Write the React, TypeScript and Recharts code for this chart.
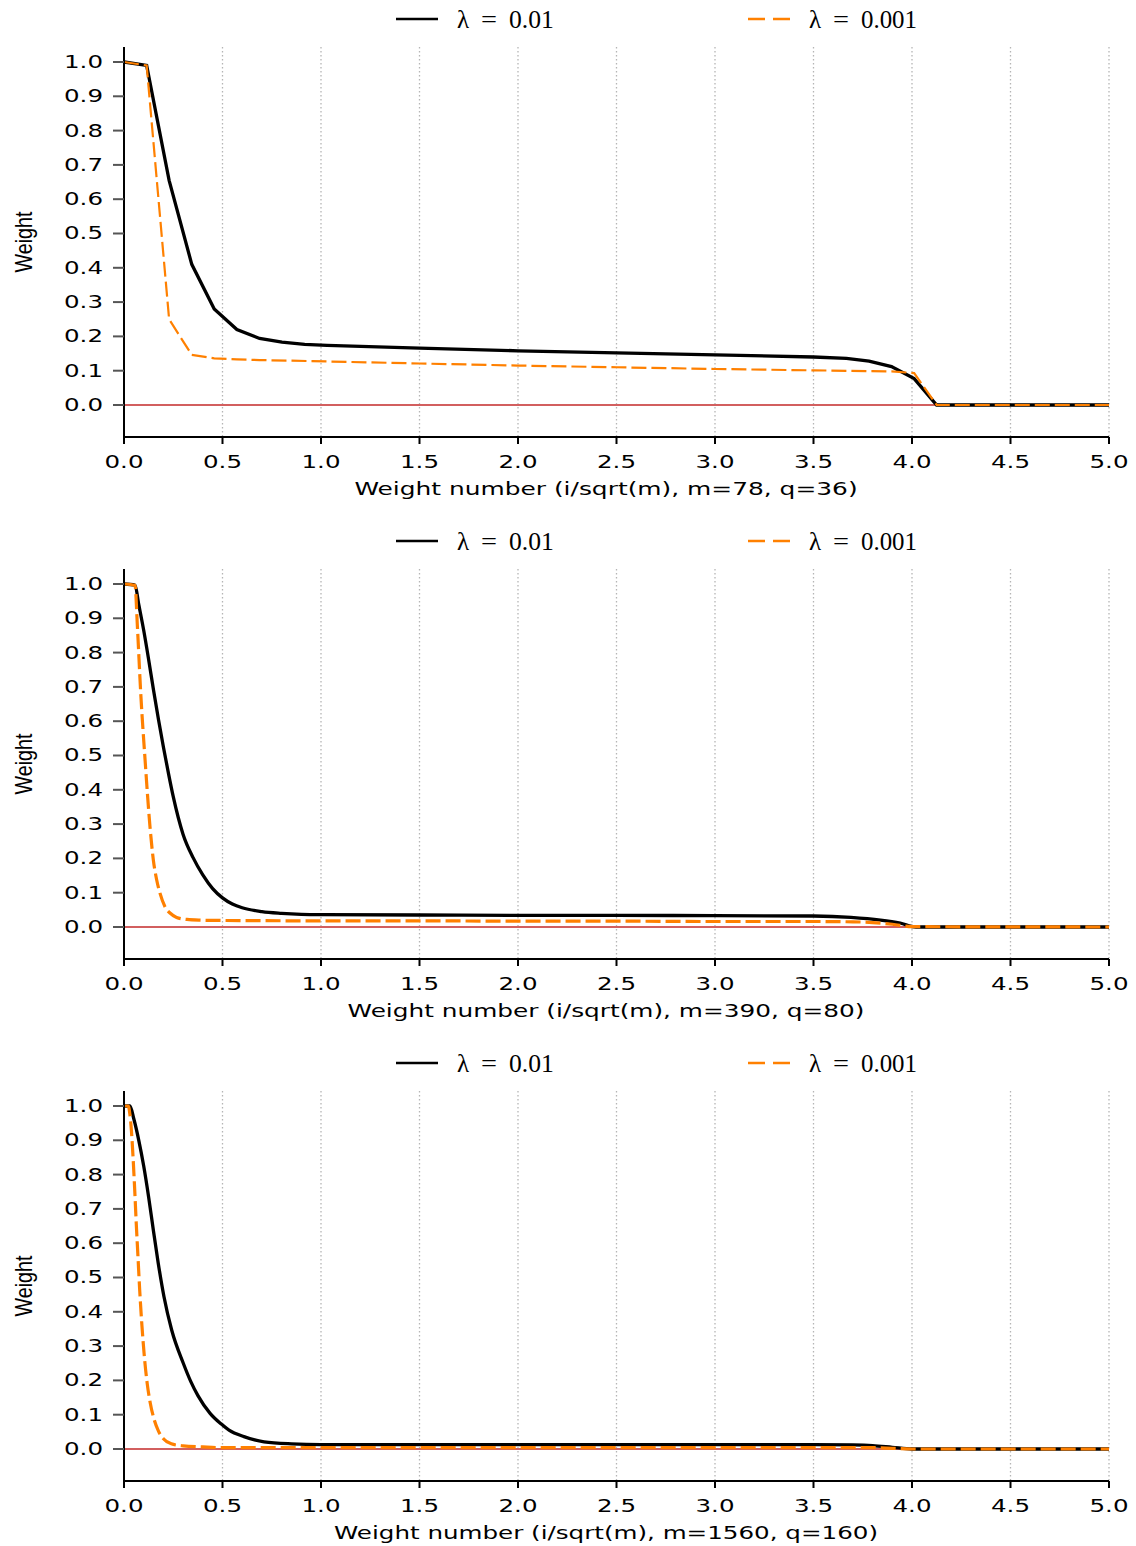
import { LineChart, Line, XAxis, YAxis, CartesianGrid, ReferenceLine } from "recharts"

const xTicks = [0, 0.5, 1, 1.5, 2, 2.5, 3, 3.5, 4, 4.5, 5]
const yTicks = [0, 0.1, 0.2, 0.3, 0.4, 0.5, 0.6, 0.7, 0.8, 0.9, 1.0]
const lambdas = ["0.01", "0.001"]

// m=78, q=36
const x78Black = [0, 0.115, 0.229, 0.344, 0.458, 0.573, 0.688, 0.802, 0.917, 1.031, 1.5, 2.0, 2.5, 3.0, 3.5, 3.667, 3.782, 3.896, 4.011, 4.125, 5.0]
const y78Black = [1.0, 0.99, 0.655, 0.41, 0.28, 0.22, 0.194, 0.183, 0.177, 0.174, 0.166, 0.158, 0.152, 0.146, 0.14, 0.136, 0.128, 0.112, 0.077, 0.0, 0.0]
const x78Orange = [0, 0.115, 0.229, 0.344, 0.458, 0.573, 0.688, 1.031, 1.5, 2.0, 2.5, 3.0, 3.5, 3.896, 4.011, 4.125, 5.0]
const y78Orange = [1.0, 0.99, 0.25, 0.146, 0.136, 0.133, 0.131, 0.127, 0.121, 0.115, 0.11, 0.105, 0.101, 0.098, 0.093, 0.0, 0.0]

// m=390, q=80
const x390Black = [0, 0.056, 0.075, 0.1, 0.125, 0.15, 0.175, 0.2, 0.225, 0.25, 0.275, 0.3, 0.35, 0.4, 0.45, 0.5, 0.55, 0.6, 0.7, 0.8, 0.9, 1.0, 1.5, 2.0, 2.5, 3.0, 3.5, 3.69, 3.84, 3.94, 4.02, 5.0]
const y390Black = [1.0, 0.997, 0.94, 0.865, 0.78, 0.69, 0.605, 0.525, 0.45, 0.38, 0.32, 0.27, 0.203, 0.152, 0.112, 0.085, 0.067, 0.056, 0.045, 0.04, 0.037, 0.036, 0.035, 0.034, 0.034, 0.033, 0.032, 0.028, 0.02, 0.011, 0.0, 0.0]
const x390Orange = [0, 0.056, 0.068, 0.085, 0.107, 0.132, 0.149, 0.166, 0.183, 0.208, 0.235, 0.267, 0.32, 0.386, 0.5, 1.0, 1.5, 2.0, 2.5, 3.0, 3.5, 3.7, 3.8, 3.9, 4.0, 5.0]
const y390Orange = [1.0, 0.996, 0.876, 0.681, 0.487, 0.292, 0.195, 0.137, 0.098, 0.059, 0.04, 0.028, 0.022, 0.02, 0.019, 0.018, 0.018, 0.017, 0.017, 0.016, 0.016, 0.015, 0.013, 0.008, 0.001, 0.0]

// m=1560, q=160
const x1560Black = [0, 0.03, 0.05, 0.075, 0.1, 0.125, 0.149, 0.174, 0.203, 0.242, 0.301, 0.338, 0.376, 0.437, 0.491, 0.533, 0.609, 0.711, 0.85, 1.0, 1.5, 2.0, 2.5, 3.0, 3.5, 3.7, 3.8, 3.9, 4.0, 5.0]
const y1560Black = [1.0, 1.0, 0.962, 0.9, 0.825, 0.735, 0.638, 0.541, 0.444, 0.347, 0.25, 0.198, 0.155, 0.104, 0.074, 0.055, 0.036, 0.021, 0.015, 0.013, 0.013, 0.013, 0.013, 0.013, 0.013, 0.012, 0.01, 0.005, 0.0, 0.0]
const x1560Orange = [0, 0.022, 0.03, 0.038, 0.046, 0.054, 0.062, 0.071, 0.08, 0.091, 0.104, 0.118, 0.133, 0.152, 0.175, 0.2, 0.24, 0.3, 0.4, 0.5, 1.0, 2.0, 3.0, 3.8, 3.9, 4.0, 5.0]
const y1560Orange = [1.0, 1.0, 0.975, 0.925, 0.85, 0.76, 0.66, 0.56, 0.46, 0.36, 0.265, 0.19, 0.135, 0.088, 0.052, 0.03, 0.015, 0.009, 0.006, 0.004, 0.004, 0.004, 0.004, 0.004, 0.002, 0.0, 0.0]

const zip = (xs: number[], ys: number[]) => xs.map((x, i) => ({ x, y: ys[i] }))

const SANS = "DejaVu Sans, sans-serif"
const SERIF = "Liberation Serif, serif"
const ORANGE = "#ff8000"

const XTick = (props: any) => {
  const { x, y, payload } = props
  return (
    <text x={x} y={y + 24} textAnchor="middle" fontFamily={SANS} fontSize={17} fill="#000"
      textLength={39} lengthAdjust="spacingAndGlyphs">
      {Number(payload.value).toFixed(1)}
    </text>
  )
}

const YTick = (props: any) => {
  const { x, y, payload } = props
  return (
    <text x={x - 10} y={y + 6} textAnchor="end" fontFamily={SANS} fontSize={17} fill="#000"
      textLength={39} lengthAdjust="spacingAndGlyphs">
      {Number(payload.value).toFixed(1)}
    </text>
  )
}

function LegendEntry({ x, value, dashed }: any) {
  return (
    <g>
      <line x1={x} y1={19} x2={x + 42} y2={19} stroke={dashed ? ORANGE : "#000"} strokeWidth={2.5}
        strokeDasharray={dashed ? "17 8" : undefined} />
      <text x={x + 61} y={28} fontFamily={SERIF} fontSize={25} fill="#000">λ</text>
      <text x={x + 85} y={28} fontFamily={SERIF} fontSize={25} fill="#000" textLength={16}
        lengthAdjust="spacingAndGlyphs">=</text>
      <text x={x + 113} y={28} fontFamily={SERIF} fontSize={25} fill="#000"
        textLength={value.length * 11.2} lengthAdjust="spacingAndGlyphs">{value}</text>
    </g>
  )
}

function Panel({ black, orange, xLabel, curve, orangeWidth }: any) {
  return (
    <div style={{ position: "relative", width: 1136, height: 522 }}>
      <LineChart width={1136} height={522} margin={{ top: 47, right: 27, bottom: 0, left: 0 }}>
        <CartesianGrid horizontal={false} stroke="#b5b5b5" strokeWidth={1.3} strokeDasharray="1.5 2.5" />
        <XAxis
          type="number"
          dataKey="x"
          domain={[0, 5]}
          ticks={xTicks}
          interval={0}
          height={85}
          tickSize={7}
          tickMargin={0}
          tick={<XTick />}
          axisLine={{ stroke: "#000", strokeWidth: 2 }}
          tickLine={{ stroke: "#000", strokeWidth: 2 }}
          allowDataOverflow
          label={(p: any) => (
            <text x={606} y={p.viewBox.y + 58} textAnchor="middle" fontFamily={SANS} fontSize={17.5} fill="#000"
              textLength={xLabel.length * 13.6} lengthAdjust="spacingAndGlyphs">
              {xLabel}
            </text>
          )}
        />
        <YAxis
          type="number"
          domain={[-0.0933, 1.0437]}
          ticks={yTicks}
          interval={0}
          width={124}
          tickSize={11}
          tickMargin={0}
          tick={<YTick />}
          axisLine={{ stroke: "#000", strokeWidth: 2 }}
          tickLine={{ stroke: "#555", strokeWidth: 2 }}
          allowDataOverflow
          label={(p: any) => {
            const cy = p.viewBox.y + p.viewBox.height / 2
            return (
              <text x={32} y={cy} transform={`rotate(-90, 32, ${cy})`} textAnchor="middle"
                fontFamily="Liberation Sans Narrow, Liberation Sans, sans-serif" fontSize={24} fill="#000"
                textLength={61} lengthAdjust="spacingAndGlyphs">
                Weight
              </text>
            )
          }}
        />
        <ReferenceLine y={0} stroke="#d25f5f" strokeWidth={2} />
        <Line data={black} dataKey="y" type={curve} stroke="#000" strokeWidth={3.3} dot={false}
          activeDot={false} isAnimationActive={false} />
        <Line data={orange} dataKey="y" type={curve} stroke={ORANGE} strokeWidth={orangeWidth}
          strokeDasharray="15 5" dot={false} activeDot={false} isAnimationActive={false} />
      </LineChart>
      <svg width={1136} height={40} style={{ position: "absolute", left: 0, top: 0 }}>
        <LegendEntry x={396} value={lambdas[0]} />
        <LegendEntry x={748} value={lambdas[1]} dashed />
      </svg>
    </div>
  )
}

export default function App() {
  return (
    <div style={{ position: "absolute", left: 0, top: 0, width: 1136, height: 1546, overflow: "hidden", background: "#fff" }}>
      <Panel black={zip(x78Black, y78Black)} orange={zip(x78Orange, y78Orange)}
        xLabel="Weight number (i/sqrt(m), m=78, q=36)" curve="linear" orangeWidth={2.2} />
      <Panel black={zip(x390Black, y390Black)} orange={zip(x390Orange, y390Orange)}
        xLabel="Weight number (i/sqrt(m), m=390, q=80)" curve="monotone" orangeWidth={3.2} />
      <Panel black={zip(x1560Black, y1560Black)} orange={zip(x1560Orange, y1560Orange)}
        xLabel="Weight number (i/sqrt(m), m=1560, q=160)" curve="monotone" orangeWidth={3.2} />
    </div>
  )
}
